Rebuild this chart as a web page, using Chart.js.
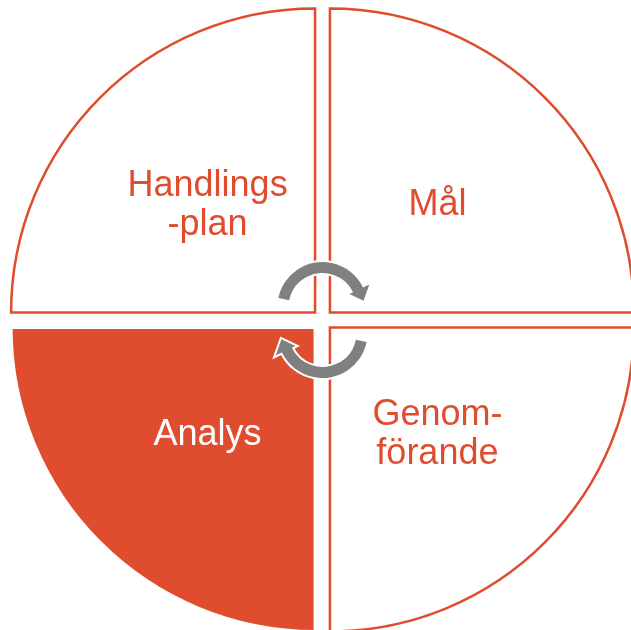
<!DOCTYPE html>
<html>
<head>
<meta charset="utf-8">
<script src="https://cdn.jsdelivr.net/npm/chart.js@4.4.1/dist/chart.umd.min.js"></script>
<style>
  html, body { margin: 0; padding: 0; background: #fff; }
  #wrap { width: 631px; height: 630px; }
</style>
</head>
<body>
<div id="wrap"><canvas id="cycle"></canvas></div>
<script>
// quarters, clockwise from the top
const labels = [['Mål'], ['Genom-', 'förande'], ['Analys'], ['Handlings', '-plan']];
const values = [25, 25, 25, 25];
const RED = '#DF4C2E';
const fills = ['#ffffff', '#ffffff', RED, '#ffffff'];
const borderColors = [RED, RED, '#ffffff', RED];
const borders = [2.5, 2.5, 3, 2.5];
const textColors = [RED, RED, '#ffffff', RED];
const OFFSET = 42;

function drawCycleArrow(ctx, cx, cy, rot) {
    const r = 39.5, w = 11;
    const a0 = Math.PI + 0.2, a1 = 2 * Math.PI - 0.45;
    const pt = (rad, ang) => [Math.cos(ang) * rad, Math.sin(ang) * rad];
    ctx.save();
    ctx.translate(cx, cy);
    ctx.rotate(rot);
    ctx.translate(0, -13);
    ctx.beginPath();
    ctx.arc(0, 0, r + w / 2, a0, a1);
    ctx.lineTo(...pt(r + w / 2 + 7, a1));
    ctx.lineTo(...pt(r + 2, a1 + 0.3));
    ctx.lineTo(...pt(r - w / 2 - 4, a1));
    ctx.lineTo(...pt(r - w / 2, a1));
    ctx.arc(0, 0, r - w / 2, a1, a0, true);
    ctx.closePath();
    ctx.lineJoin = 'miter';
    ctx.strokeStyle = '#ffffff';
    ctx.lineWidth = 4;
    ctx.stroke();
    ctx.fillStyle = '#808080';
    ctx.fill();
    ctx.restore();
}

const overlay = {
    id: 'overlay',
    afterDatasetsDraw(chart) {
        const ctx = chart.ctx;
        const arcs = chart.getDatasetMeta(0).data;
        const cx = arcs[0].x, cy = arcs[0].y;
        const shift = OFFSET / 4;
        ctx.save();
        ctx.font = '36px "Liberation Sans", Arial, sans-serif';
        ctx.textAlign = 'center';
        ctx.textBaseline = 'middle';
        arcs.forEach((a, i) => {
            const mid = (a.startAngle + a.endAngle) / 2;
            const d = (a.innerRadius + a.outerRadius) / 2 + shift;
            const x = cx + Math.cos(mid) * d;
            const y = cy + Math.sin(mid) * d;
            const lines = labels[i];
            const lh = 39;
            ctx.fillStyle = textColors[i];
            lines.forEach((t, k) => {
                ctx.fillText(t, x, y + (k - (lines.length - 1) / 2) * lh);
            });
        });
        ctx.restore();
        drawCycleArrow(ctx, cx, cy, 0);
        drawCycleArrow(ctx, cx, cy, Math.PI);
    }
};

new Chart(document.getElementById('cycle'), {
    type: 'pie',
    data: {
        labels: labels.map(l => l.join('')),
        datasets: [{
            data: values,
            backgroundColor: fills,
            borderColor: borderColors,
            borderWidth: borders,
            borderJoinStyle: 'miter',
            offset: OFFSET,
            hoverOffset: OFFSET,
            clip: false
        }]
    },
    options: {
        responsive: true,
        maintainAspectRatio: false,
        animation: false,
        events: [],
        radius: 304,
        layout: { padding: { left: 14, top: 10 } },
        plugins: { legend: { display: false }, tooltip: { enabled: false } }
    },
    plugins: [overlay]
});
</script>
</body>
</html>
